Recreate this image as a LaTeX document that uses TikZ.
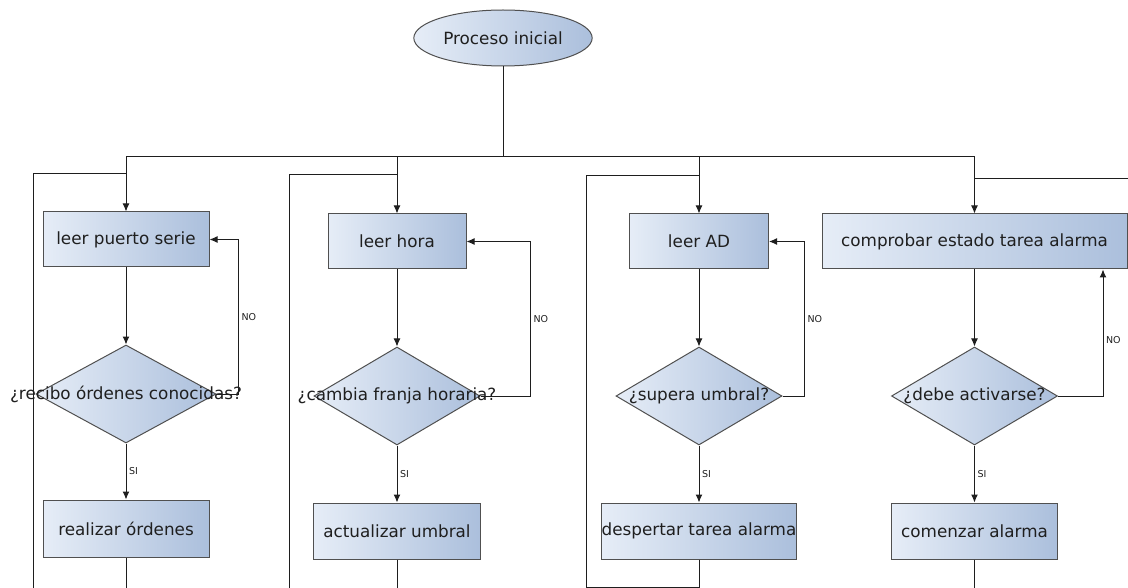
\documentclass[tikz,border=0pt]{standalone}
\usepackage{fontspec}
\newfontfamily\flowfont{DejaVu Sans}
\usepackage{xcolor}
\usetikzlibrary{shapes.geometric,arrows.meta,positioning}

\definecolor{fillL}{HTML}{E6EDF7}
\definecolor{fillR}{HTML}{ABBFDC}
\definecolor{edgegray}{HTML}{505050}
\definecolor{linegray}{HTML}{1E1E1E}

\begin{document}
\begin{tikzpicture}[
    x=1pt, y=-1pt,
    every node/.style={font=\flowfont\fontsize{16.8}{19}\selectfont, text=black!88},
    process/.style={rectangle, draw=edgegray, line width=1pt, left color=fillL, right color=fillR, minimum height=55pt, inner xsep=0pt},
    decision/.style={diamond, draw=edgegray, line width=1pt, left color=fillL, right color=fillR, inner sep=0pt, minimum width=166pt, minimum height=98pt},
    startnode/.style={ellipse, draw=edgegray, line width=1pt, left color=fillL, right color=fillR, minimum width=156pt, minimum height=56pt},
    answer/.style={font=\flowfont\fontsize{9.5}{11}\selectfont, inner sep=2.5pt},
    flow/.style={draw=linegray, line width=1pt, -{Latex[length=8pt,width=7pt]}},
    wire/.style={draw=linegray, line width=1pt},
]
\useasboundingbox (0,0) rectangle (1128,588);

\node[startnode] (start) at (503,38) {Proceso inicial};

% puerto serie
\node[process, minimum width=166pt] (leerSerie) at (126,239.5) {leer puerto serie};
\node[decision, minimum width=180pt] (ordenes) at (126,394) {\makebox[0pt]{¿recibo órdenes conocidas?}};
\node[process, minimum width=166pt, minimum height=57pt] (realizar) at (126,528.5) {realizar órdenes};

% hora
\node[process, minimum width=138pt] (leerHora) at (397,241.5) {leer hora};
\node[decision] (franja) at (397,396) {\makebox[0pt]{¿cambia franja horaria?}};
\node[process, minimum width=167pt, minimum height=56pt] (actualizar) at (397,531) {actualizar umbral};

% AD
\node[process, minimum width=139pt] (leerAD) at (699,241.5) {leer AD};
\node[decision] (umbral) at (699,396) {\makebox[0pt]{¿supera umbral?}};
\node[process, minimum width=191pt, minimum height=56pt] (despertar) at (699,531) {despertar tarea alarma};

% alarma
\node[process, minimum width=305pt] (comprobar) at (974.5,241.5) {comprobar estado tarea alarma};
\node[decision] (activarse) at (974.5,396) {\makebox[0pt]{¿debe activarse?}};
\node[process, minimum width=166pt, minimum height=56pt] (comenzar) at (974.5,531) {comenzar alarma};

\coordinate (bus) at (503,157);
\coordinate (ret1) at (33,174);   \coordinate (back1) at (33,588);
\coordinate (ret2) at (289,175);  \coordinate (back2) at (289,588);
\coordinate (ret3) at (586,176);  \coordinate (back3) at (586,587);
\coordinate (ret4) at (1128,179);
\coordinate (no4) at (1103,0);

% reparto desde el proceso inicial
\draw[wire] (start) -- (bus);
\draw[wire] (leerSerie |- bus) -- (comprobar |- bus);
\draw[flow] (leerSerie |- bus) -- (leerSerie);
\draw[flow] (leerHora |- bus) -- (leerHora);
\draw[flow] (leerAD |- bus) -- (leerAD);
\draw[flow] (comprobar |- bus) -- (comprobar);

% columnas
\draw[flow] (leerSerie) -- (ordenes);
\draw[flow] (ordenes) -- node[answer, right] {SI} (realizar);
\draw[flow] (ordenes.east) -- ++(22,0) |- node[answer, right, pos=0.25] {NO} (leerSerie.east);

\draw[flow] (leerHora) -- (franja);
\draw[flow] (franja) -- node[answer, right] {SI} (actualizar);
\draw[flow] (franja.east) -- ++(50,0) |- node[answer, right, pos=0.25] {NO} (leerHora.east);

\draw[flow] (leerAD) -- (umbral);
\draw[flow] (umbral) -- node[answer, right] {SI} (despertar);
\draw[flow] (umbral.east) -- ++(22,0) |- node[answer, right, pos=0.25] {NO} (leerAD.east);

\draw[flow] (comprobar) -- (activarse);
\draw[flow] (activarse) -- node[answer, right] {SI} (comenzar);
\draw[flow] (activarse.east) -| node[answer, right, pos=0.72] {NO} (no4 |- comprobar.south);

% vueltas al bucle
\draw[wire] (realizar) -- (realizar |- back1);
\draw[wire] (back1) -- (ret1) -- (leerSerie |- ret1);
\draw[wire] (actualizar) -- (actualizar |- back2);
\draw[wire] (back2) -- (ret2) -- (leerHora |- ret2);
\draw[wire] (despertar) -- (despertar |- back3) -- (back3) -- (ret3) -- (leerAD |- ret3);
\draw[wire] (ret4) -- (comprobar |- ret4);
\draw[wire] (comenzar) -- (comenzar |- back1);

\end{tikzpicture}
\end{document}
